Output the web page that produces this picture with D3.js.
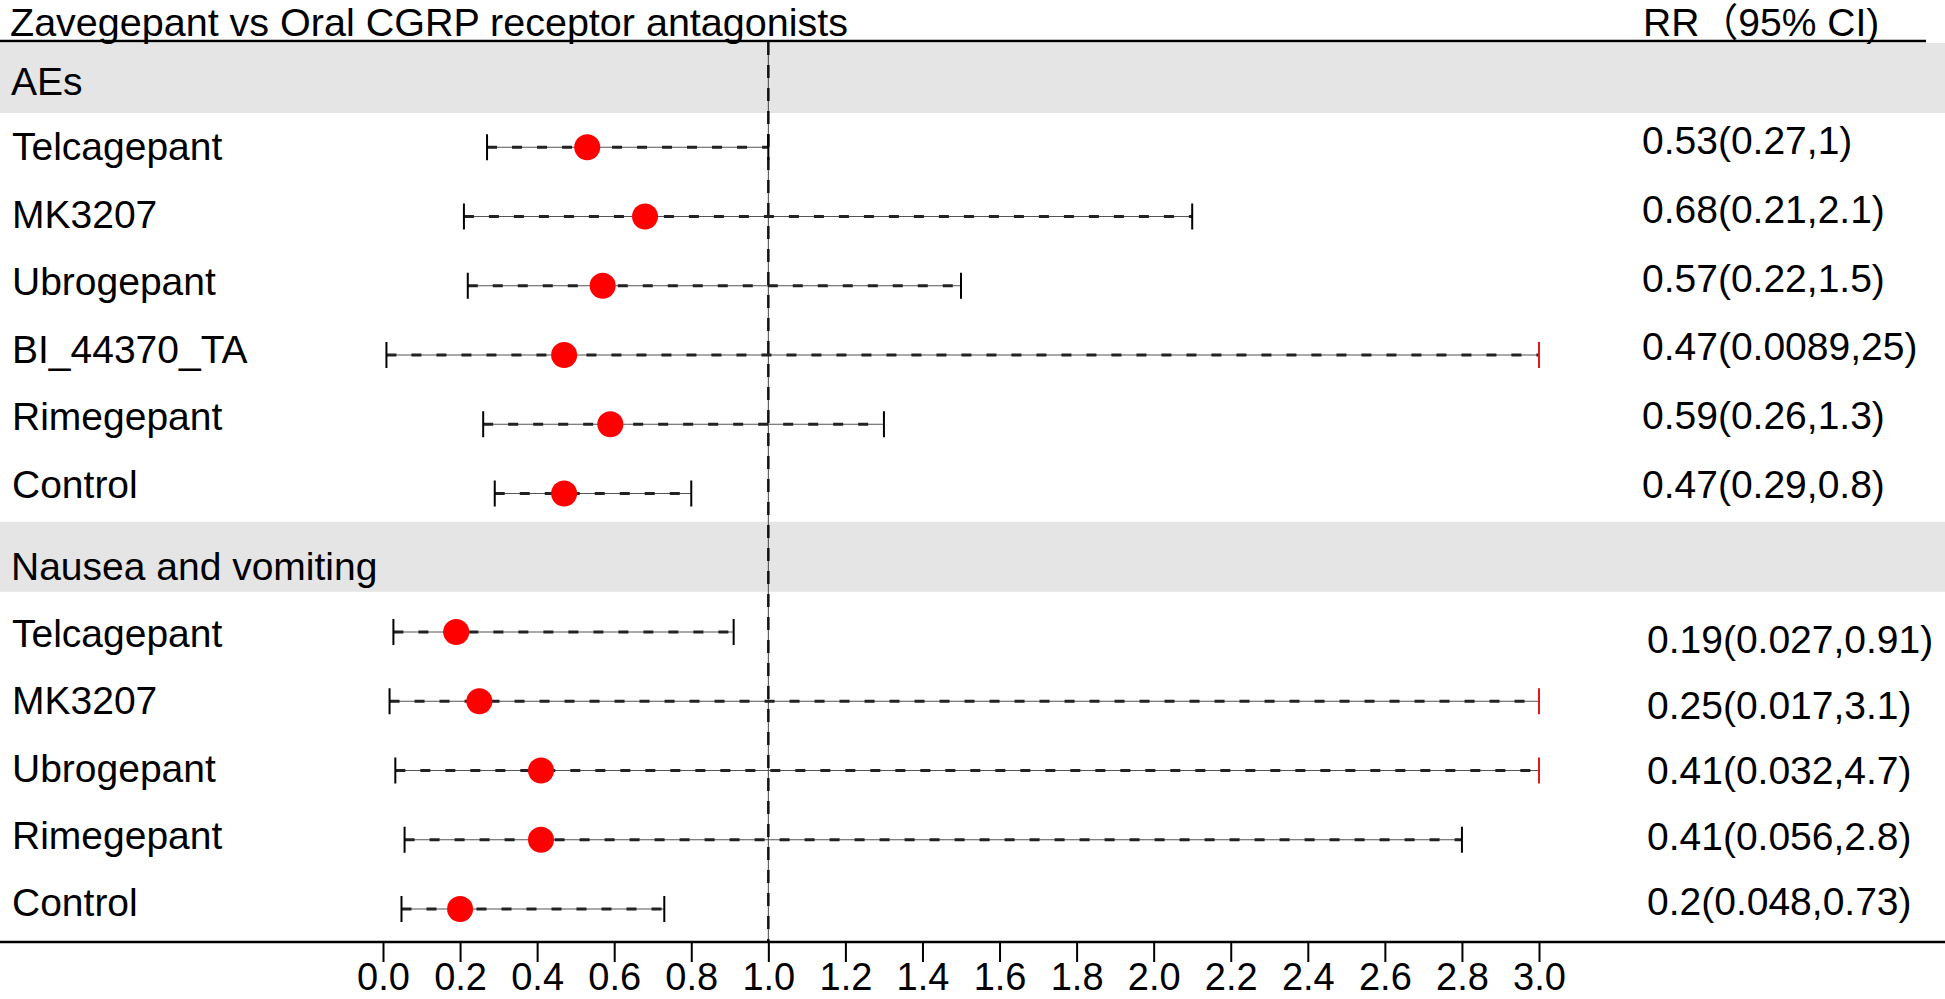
<!DOCTYPE html>
<html>
<head>
<meta charset="utf-8">
<script src="https://cdn.jsdelivr.net/npm/d3@7"></script>
<style>
  body { margin: 0; background: #fff; }
  svg { display: block; font-family: "Liberation Sans", Arial, "Noto Sans CJK SC", sans-serif; }
</style>
</head>
<body>
<div id="chart"></div>
<script>
const width = 1945;
const height = 999;

// data
const titleText = "Zavegepant vs Oral CGRP receptor antagonists";
const colText = "RR\uFF0895% CI)";
const groupNames = ["AEs", "Nausea and vomiting"];

const aeDrugs = ["Telcagepant", "MK3207", "Ubrogepant", "BI_44370_TA", "Rimegepant", "Control"];
const aeRR = [0.53, 0.68, 0.57, 0.47, 0.59, 0.47];
const aeLow = [0.27, 0.21, 0.22, 0.0089, 0.26, 0.29];
const aeHigh = [1, 2.1, 1.5, 25, 1.3, 0.8];

const nvDrugs = ["Telcagepant", "MK3207", "Ubrogepant", "Rimegepant", "Control"];
const nvRR = [0.19, 0.25, 0.41, 0.41, 0.2];
const nvLow = [0.027, 0.017, 0.032, 0.056, 0.048];
const nvHigh = [0.91, 3.1, 4.7, 2.8, 0.73];

const tickValues = [0, 0.2, 0.4, 0.6, 0.8, 1, 1.2, 1.4, 1.6, 1.8, 2, 2.2, 2.4, 2.6, 2.8, 3];

// rows: header + drugs per group
const rows = [];
[[aeDrugs, aeRR, aeLow, aeHigh], [nvDrugs, nvRR, nvLow, nvHigh]].forEach(([drugs, rr, lo, hi], g) => {
  rows.push({ header: true, name: groupNames[g], g });
  drugs.forEach((d, i) => rows.push({ header: false, name: d, rr: rr[i], lo: lo[i], hi: hi[i], g, i, n: drugs.length }));
});
rows.forEach((r, i) => r.slot = i);

const svg = d3.select("#chart")
  .append("svg")
  .attr("width", width)
  .attr("height", height);

const x = d3.scaleLinear().domain([0, 3]).range([383, 1539]);
const y = d3.scalePoint().domain(rows.map(r => r.slot)).range([78, 909]);

// the text columns are spaced a little tighter than the plot rows
const labelY = [d3.scaleLinear().domain([0, 5]).range([160, 498]), d3.scaleLinear().domain([0, 4]).range([647, 916])];
const rrY = [d3.scaleLinear().domain([0, 5]).range([154, 498]), d3.scaleLinear().domain([0, 4]).range([653, 915])];

// header bands
svg.selectAll("rect.band")
  .data(rows.filter(r => r.header))
  .enter()
  .append("rect")
  .attr("class", "band")
  .attr("x", 0)
  .attr("width", width)
  .attr("y", d => y(d.slot) - 35 - (d.g ? 6 : 0))
  .attr("height", 70)
  .attr("fill", "#e5e5e5");

svg.selectAll("text.hdr")
  .data(rows.filter(r => r.header))
  .enter()
  .append("text")
  .attr("class", "hdr")
  .attr("x", 11)
  .attr("y", d => y(d.slot) + 17)
  .attr("font-size", 39)
  .text(d => d.name);

// title + top rule
svg.append("text")
  .attr("x", 10)
  .attr("y", 36)
  .attr("font-size", 39.5)
  .text(titleText);

svg.append("text")
  .attr("x", 1643)
  .attr("y", 36)
  .attr("font-size", 39)
  .text(colText);

svg.append("line")
  .attr("x1", 0).attr("x2", 1926)
  .attr("y1", 41).attr("y2", 41)
  .attr("stroke", "#000")
  .attr("stroke-width", 2.5);

// reference line at RR = 1
const refLine = svg.append("g");
refLine.append("line")
  .attr("x1", x(1)).attr("x2", x(1))
  .attr("y1", 42).attr("y2", 942)
  .attr("stroke", "#444").attr("stroke-width", 1);
refLine.append("line")
  .attr("x1", x(1)).attr("x2", x(1))
  .attr("y1", 42).attr("y2", 942)
  .attr("stroke", "#111").attr("stroke-width", 2.5)
  .attr("stroke-dasharray", "13 10");

// CI rows
const data = rows.filter(r => !r.header);
const g = svg.append("g");

g.selectAll("line.ci")
  .data(data)
  .enter()
  .append("line")
  .attr("class", "ci")
  .attr("x1", d => x(d.lo)).attr("x2", d => x(Math.min(d.hi, 3)))
  .attr("y1", d => y(d.slot)).attr("y2", d => y(d.slot))
  .attr("stroke", "#555").attr("stroke-width", 1.2);

g.selectAll("line.cidash")
  .data(data)
  .enter()
  .append("line")
  .attr("class", "cidash")
  .attr("x1", d => x(d.lo)).attr("x2", d => x(Math.min(d.hi, 3)))
  .attr("y1", d => y(d.slot)).attr("y2", d => y(d.slot))
  .attr("stroke", "#222").attr("stroke-width", 3)
  .attr("stroke-dasharray", "10 15");

g.selectAll("line.lo")
  .data(data)
  .enter()
  .append("line")
  .attr("x1", d => x(d.lo)).attr("x2", d => x(d.lo))
  .attr("y1", d => y(d.slot) - 13).attr("y2", d => y(d.slot) + 13)
  .attr("stroke", "#000").attr("stroke-width", 2);

g.selectAll("line.hi")
  .data(data)
  .enter()
  .append("line")
  .attr("x1", d => x(Math.min(d.hi, 3))).attr("x2", d => x(Math.min(d.hi, 3)))
  .attr("y1", d => y(d.slot) - 13).attr("y2", d => y(d.slot) + 13)
  .attr("stroke", d => d.hi > 3 ? "#e8161b" : "#000").attr("stroke-width", 2);

g.selectAll("circle")
  .data(data)
  .enter()
  .append("circle")
  .attr("cx", d => x(d.rr))
  .attr("cy", d => y(d.slot))
  .attr("r", 13)
  .attr("fill", "#ff0000");

// labels
svg.selectAll("text.lbl")
  .data(data)
  .enter()
  .append("text")
  .attr("x", 12)
  .attr("y", d => labelY[d.g](d.i))
  .attr("font-size", 39)
  .text(d => d.name);

svg.selectAll("text.rr")
  .data(data)
  .enter()
  .append("text")
  .attr("x", d => d.g ? 1647 : 1642)
  .attr("y", d => rrY[d.g](d.i))
  .attr("font-size", 39)
  .text(d => `${d.rr}(${d.lo},${d.hi})`);

// x axis
svg.append("line")
  .attr("x1", 0).attr("x2", width)
  .attr("y1", 942).attr("y2", 942)
  .attr("stroke", "#000").attr("stroke-width", 2.5);

const axis = svg.append("g")
  .attr("transform", "translate(0,942)")
  .call(d3.axisBottom(x).tickValues(tickValues).tickFormat(d3.format(".1f")).tickSize(20).tickPadding(1));
axis.select(".domain").remove();
axis.selectAll(".tick line").attr("stroke", "#000").attr("stroke-width", 2);
axis.selectAll(".tick text")
  .attr("font-size", 38)
  .attr("font-family", "Liberation Sans, Arial, sans-serif")
  .attr("fill", "#000");
</script>
</body>
</html>
